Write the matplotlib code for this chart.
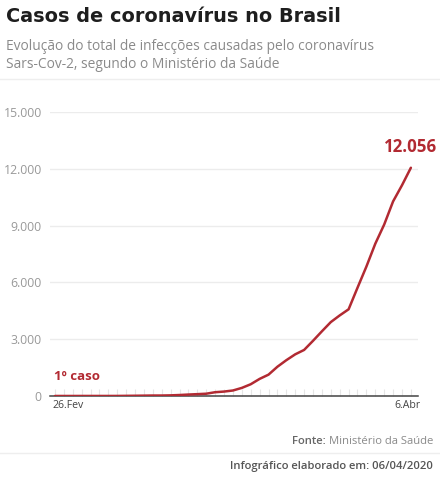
import matplotlib
matplotlib.use("Agg")
import matplotlib.pyplot as plt
import matplotlib.transforms as mtransforms

plt.rcParams['font.family'] = ['Open Sans', 'DejaVu Sans']

# casos acumulados, 26/fev a 6/abr de 2020
dias = list(range(41))
casos = [1, 1, 1, 2, 2, 2, 2, 3, 8, 13, 19, 25, 25, 34, 52, 77, 98, 121,
         200, 234, 291, 428, 621, 904, 1128, 1546, 1891, 2201, 2433, 2915,
         3417, 3904, 4256, 4579, 5717, 6836, 8044, 9056, 10278, 11130, 12056]
yticks = [0, 3000, 6000, 9000, 12000, 15000]
ylabels = ["0", "3.000", "6.000", "9.000", "12.000", "15.000"]
xlabels = ["26.Fev", "6.Abr"]

RED = "#b22a32"
GRAY = "#999999"

fig = plt.figure(figsize=(4.4, 4.8), dpi=100)
fig.patch.set_facecolor("white")

fig.text(6 / 440, 1 - 17 / 480, "Casos de coronavírus no Brasil", fontsize=13.9,
         fontweight="bold", color="#1e1e1e", va="center", ha="left",
         family=["DejaVu Sans"])
fig.text(6 / 440, 1 - 47 / 480, "Evolução do total de infecções causadas pelo coronavírus",
         fontsize=9.9, color="#8a8a8a", va="center", ha="left")
fig.text(6 / 440, 1 - 65 / 480, "Sars-Cov-2, segundo o Ministério da Saúde",
         fontsize=9.9, color="#8a8a8a", va="center", ha="left")
fig.add_artist(plt.Line2D([0, 1], [1 - 79 / 480] * 2, color="#eeeeee", lw=1))

ax = fig.add_axes([50 / 440, 84 / 480, 368 / 440, 284 / 480])
ax.plot(dias, casos, color=RED, lw=1.8, solid_capstyle="round", zorder=3)
ax.set_xlim(-0.56, 40.8)
ax.set_ylim(0, 15000)

for s in ["top", "right", "left"]:
    ax.spines[s].set_visible(False)
ax.spines["bottom"].set_color("#444444")
ax.spines["bottom"].set_linewidth(1.1)

ax.set_yticks(yticks)
ax.set_yticklabels(ylabels)
ax.tick_params(axis="y", length=0, pad=6, labelsize=8.8, labelcolor=GRAY)
ax.yaxis.grid(True, color="#ececec", lw=1)
ax.set_axisbelow(True)

ax.set_xticks([])
ax.set_xticks(dias, minor=True)
ax.tick_params(axis="x", which="minor", direction="in", length=5,
               color="#e6e6e6", width=0.8)

trans = mtransforms.blended_transform_factory(ax.transData, ax.transAxes)
ax.text(dias[0] - 0.3, -0.035, xlabels[0], transform=trans, ha="left", va="center",
        fontsize=7.6, color="#444444")
ax.text(dias[-1] + 1.1, -0.035, xlabels[-1], transform=trans, ha="right", va="center",
        fontsize=7.6, color="#444444")

ax.annotate("1º caso", (dias[0], casos[0]), xytext=(-1, 14), textcoords="offset points",
            ha="left", va="center", fontsize=9.5, fontweight="bold", color=RED)
ax.annotate("12.056", (dias[-1], casos[-1]), xytext=(19, 15), textcoords="offset points",
            ha="right", va="center", fontsize=12.2, fontweight="bold", color=RED)

t = fig.text(433 / 440, 1 - 441 / 480, "Ministério da Saúde", fontsize=8.1,
             color="#8a8a8a", ha="right", va="center")
fig.canvas.draw()
bb = t.get_window_extent()
fig.text(bb.x0 / fig.bbox.width, 1 - 441 / 480, "Fonte: ", fontsize=8.1, color="#666666",
         fontweight="semibold", ha="right", va="center")
fig.add_artist(plt.Line2D([0, 1], [1 - 453 / 480] * 2, color="#eeeeee", lw=1))
fig.text(433 / 440, 1 - 466 / 480, "Infográfico elaborado em: 06/04/2020", fontsize=8.1,
         color="#555555", fontweight="semibold", ha="right", va="center")

fig.savefig("out.png", dpi=100, facecolor="white")
